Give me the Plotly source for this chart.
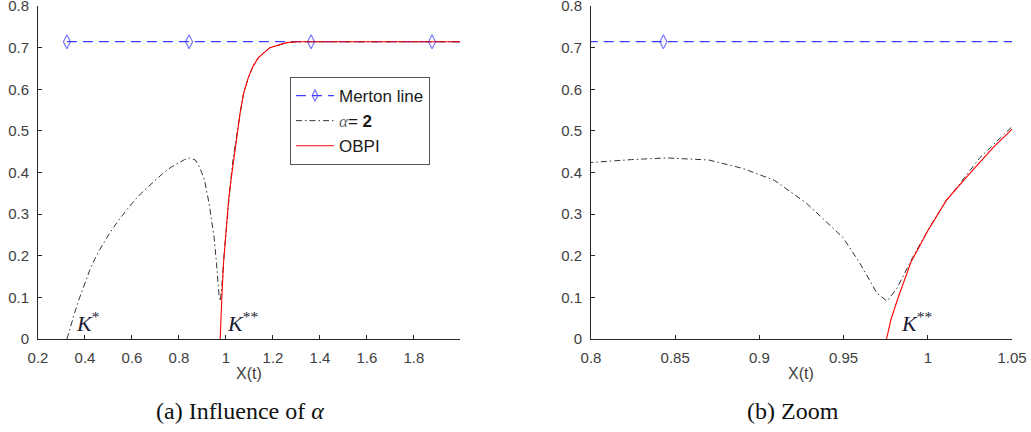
import plotly.graph_objects as go

# ---------------- data ----------------
merton_value = 0.7143
merton_x = [0.323, 0.843, 1.362, 1.877, 1.996]
merton_marker_size = [10, 10, 10, 10, 0]

alpha_x = [0.323, 0.333, 0.342, 0.360, 0.377, 0.400, 0.420, 0.440, 0.460, 0.500, 0.540,
           0.580, 0.611, 0.650, 0.689, 0.730, 0.767, 0.800, 0.824, 0.845, 0.870, 0.890,
           0.909, 0.928, 0.9496, 0.9597, 0.9698, 0.9758, 0.9817, 0.991, 1.001, 1.011,
           1.0173, 1.031, 1.050, 1.060, 1.075, 1.095, 1.115, 1.138, 1.187, 1.258, 1.300,
           1.996]
alpha_y = [0.0, 0.020, 0.037, 0.070, 0.099, 0.135, 0.165, 0.190, 0.212, 0.250, 0.283,
           0.312, 0.333, 0.356, 0.377, 0.397, 0.413, 0.424, 0.431, 0.435, 0.430, 0.410,
           0.381, 0.326, 0.244, 0.182, 0.110, 0.091, 0.122, 0.196, 0.268, 0.333,
           0.364, 0.436, 0.510, 0.542, 0.590, 0.628, 0.655, 0.676, 0.700, 0.712, 0.714,
           0.714]

obpi_x = [0.9755, 0.978, 0.982, 0.990, 1.000, 1.011, 1.023, 1.039, 1.051, 1.060, 1.075,
          1.095, 1.115, 1.138, 1.187, 1.258, 1.300, 1.996]
obpi_y = [0.0, 0.045, 0.095, 0.185, 0.260, 0.333, 0.389, 0.461, 0.508, 0.542, 0.590,
          0.628, 0.655, 0.676, 0.700, 0.712, 0.714, 0.714]

y_ticks = [0, 0.1, 0.2, 0.3, 0.4, 0.5, 0.6, 0.7, 0.8]
y_ticktext = ["0", "0.1", "0.2", "0.3", "0.4", "0.5", "0.6", "0.7", "0.8"]
xa_ticks = [0.2, 0.4, 0.6, 0.8, 1.0, 1.2, 1.4, 1.6, 1.8]
xa_ticktext = ["0.2", "0.4", "0.6", "0.8", "1", "1.2", "1.4", "1.6", "1.8"]
xb_ticks = [0.8, 0.85, 0.9, 0.95, 1.0, 1.05]
xb_ticktext = ["0.8", "0.85", "0.9", "0.95", "1", "1.05"]

# ---------------- figure ----------------
W, H = 1031, 432
fig = go.Figure()

BLUE = "#3d3dff"
for ax, show in (("", True), ("2", False)):
    xr, yr = "x" + ax, "y" + ax
    fig.add_trace(go.Scatter(
        x=merton_x, y=[merton_value] * len(merton_x), xaxis=xr, yaxis=yr,
        mode="lines+markers", name="Merton line", showlegend=show, legendrank=1,
        line=dict(color=BLUE, width=1.2, dash="10px,6px"),
        marker=dict(symbol="diamond-tall-open", size=merton_marker_size, color=BLUE,
                    line=dict(color=BLUE, width=1.2)),
    ))
    fig.add_trace(go.Scatter(
        x=alpha_x, y=alpha_y, xaxis=xr, yaxis=yr, mode="lines",
        name='<span style="font-family:\'Liberation Serif\';font-style:italic;fill:#666">α</span>= <b>2</b>',
        showlegend=show, legendrank=2,
        line=dict(color="#333333", width=1, dash="6px,3px,1.5px,3px"),
    ))
    fig.add_trace(go.Scatter(
        x=obpi_x, y=obpi_y, xaxis=xr, yaxis=yr, mode="lines",
        name="OBPI", showlegend=show, legendrank=3,
        line=dict(color="#ff0000", width=1.1),
    ))

ytop = 1 - 6 / H
ybot = 1 - 339 / H
axis_common = dict(showgrid=False, zeroline=False, showline=True, linecolor="#262626",
                   linewidth=1, ticks="inside", ticklen=4, tickcolor="#262626",
                   tickfont=dict(family="Liberation Sans", size=15, color="#404040"),
                   mirror=False, ticklabeloverflow="allow", automargin=False)
xstand = dict(ticklabelstandoff=5)
ystand = dict(ticklabelstandoff=5)

fig.update_layout(
    width=W, height=H, margin=dict(l=0, r=0, t=0, b=0, autoexpand=False),
    paper_bgcolor="white", plot_bgcolor="white", showlegend=True,
    xaxis=dict(domain=[38 / W, 460 / W], range=[0.2, 1.996], anchor="y",
               tickvals=xa_ticks, ticktext=xa_ticktext, **xstand, **axis_common),
    yaxis=dict(domain=[ybot, ytop], range=[0, 0.8], anchor="x",
               tickvals=y_ticks, ticktext=y_ticktext, **ystand, **axis_common),
    xaxis2=dict(domain=[591 / W, 1012 / W], range=[0.8, 1.05], anchor="y2",
                tickvals=xb_ticks, ticktext=xb_ticktext, **xstand, **axis_common),
    yaxis2=dict(domain=[ybot, ytop], range=[0, 0.8], anchor="x2",
                tickvals=y_ticks, ticktext=y_ticktext, **ystand, **axis_common),
    legend=dict(x=290 / W, y=1 - 77 / H, xanchor="left", yanchor="top",
                bgcolor="white", bordercolor="#555555", borderwidth=1,
                font=dict(family="Liberation Sans", size=17, color="#1a1a1a"),
                itemwidth=38, tracegroupgap=0),
)

ann_font = dict(family="Liberation Sans", size=16, color="#404040")
cap_font = dict(family="Liberation Serif", size=24, color="#111111")
k_font = dict(family="Liberation Serif", size=22, color="#1a1a33")

annotations = [
    dict(text="X(t)", x=249 / W, y=1 - 373 / H, xref="paper", yref="paper",
         showarrow=False, font=ann_font, xanchor="center", yanchor="middle"),
    dict(text="X(t)", x=801 / W, y=1 - 373 / H, xref="paper", yref="paper",
         showarrow=False, font=ann_font, xanchor="center", yanchor="middle"),
    dict(text="(a) Influence of <i>α</i>", x=240 / W, y=1 - 411 / H, xref="paper",
         yref="paper", showarrow=False, font=cap_font, xanchor="center", yanchor="middle"),
    dict(text="(b) Zoom", x=793 / W, y=1 - 411 / H, xref="paper", yref="paper",
         showarrow=False, font=cap_font, xanchor="center", yanchor="middle"),
    dict(text="<i>K</i><sup>*</sup>", x=0.355, y=0.04, xref="x", yref="y",
         showarrow=False, font=k_font, xanchor="left", yanchor="middle"),
    dict(text="<i>K</i><sup>**</sup>", x=0.995, y=0.04, xref="x", yref="y",
         showarrow=False, font=k_font, xanchor="left", yanchor="middle"),
    dict(text="<i>K</i><sup>**</sup>", x=0.983, y=0.04, xref="x2", yref="y2",
         showarrow=False, font=k_font, xanchor="left", yanchor="middle"),
]
fig.update_layout(annotations=annotations)

fig.write_html("out.html", config={"displayModeBar": False})
